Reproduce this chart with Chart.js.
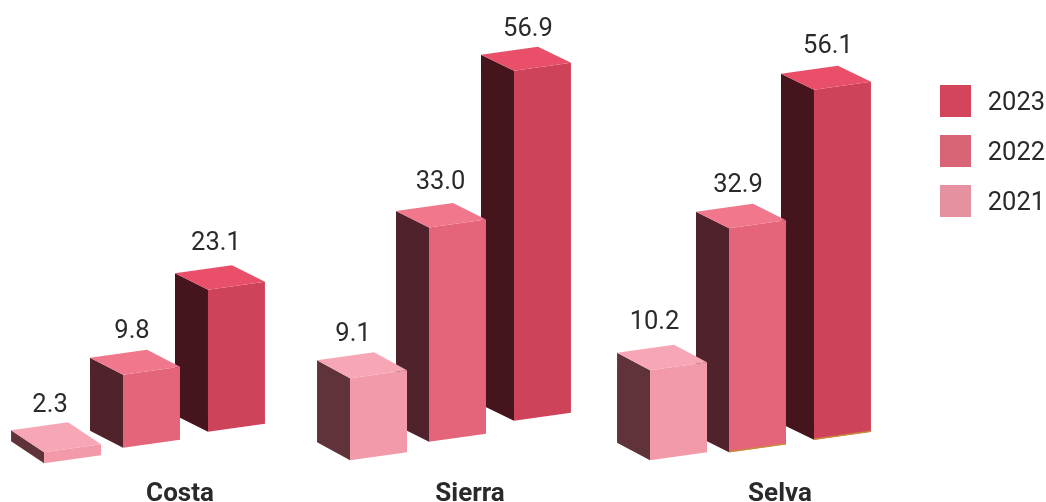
<!DOCTYPE html>
<html>
<head>
<meta charset="utf-8">
<style>html,body{margin:0;padding:0;background:#fff}canvas{display:block}</style>
<script src="https://cdn.jsdelivr.net/npm/chart.js@4/dist/chart.umd.min.js"></script>
</head>
<body>
<canvas id="c" width="1046" height="502"></canvas>
<script>
const categories = ['Costa', 'Sierra', 'Selva'];
const seriesNames = ['2021', '2022', '2023'];

// Printed value labels.
const printed2021 = [2.3, 9.1, 10.2];
const printed2022 = [9.8, 33.0, 32.9];
const printed2023 = [23.1, 56.9, 56.1];

// Bar heights as pictured: the reference's bars are not
// to scale with their printed labels, so both are recorded.
const height2021 = [1.8, 13.3, 14.6];
const height2022 = [11.9, 34.8, 36.4];
const height2023 = [23.1, 56.9, 56.9];

// How far each bar's foot sits above the floor in the 3D view.
const lift2021 = [1.1, 1.6, 1.6];
const lift2022 = [3.6, 4.6, 2.9];
const lift2023 = [6.2, 8.0, 4.9];

const printed = [printed2021, printed2022, printed2023];
const heights = [height2021, height2022, height2023];
const lifts = [lift2021, lift2022, lift2023];

// Layout and style, kept apart from the data.
const groupNudge = [-0.5, 2.5, -0.5];
const seriesNudge = [3, 0, 3];
const tickNudge = [28, 15, 22];
const labelShiftX = [[-22.5, -25.5, -24], [-19.5, -17, -19.5], [-20.5, -14.5, -14.5]];
const labelShiftY = [[-46.5, -43.5, -47.5], [-43.5, -44.5, -42.5], [-46.5, -41.5, -43.5]];
const depthX = 33, riseY = 8;
const depthYs = [[22, 18, 17.5], [17, 16.5, 16.5], [16.5, 16, 16]];
const frontColors = ['#f29aa9', '#e4647a', '#cf435a'];
const topColors = ['#f7a6b5', '#f0778c', '#e94f69'];
const sideColors = ['#5f3339', '#50222c', '#46141c'];
const legendColors = ['#e5919f', '#d96476', '#d2455b'];
const groundEdge = [false, false, true];
const textColor = '#2a2a2c';
const labelFont = '400 25.5px Roboto';
const swatchLeft = 940, swatchTop = 85, swatchW = 31, swatchH = 32, swatchStep = 50;

class NudgedCategory extends Chart.CategoryScale {
  static id = 'nudgedCategory';
  static defaults = Chart.CategoryScale.defaults;
  getPixelForTick(i) { return super.getPixelForTick(i) + tickNudge[i]; }
}
Chart.register(NudgedCategory);

function poly(ctx, pts, fill) {
  ctx.beginPath();
  pts.forEach((p, i) => i ? ctx.lineTo(p[0], p[1]) : ctx.moveTo(p[0], p[1]));
  ctx.closePath();
  ctx.fillStyle = fill;
  ctx.fill();
}

const box3d = {
  id: 'box3d',
  afterLayout(chart) {
    const l = chart.legend;
    l.left = 922; l.top = 70; l.right = 1046; l.bottom = 300;
  },
  afterDatasetsDraw(chart) {
    const ctx = chart.ctx;
    for (let c = 0; c < categories.length; c++) {
      for (let s = seriesNames.length - 1; s >= 0; s--) {
        const el = chart.getDatasetMeta(s).data[c];
        const w = el.width;
        const l = el.x - w / 2 + groupNudge[c] + seriesNudge[s];
        const r = l + w;
        const t = el.y, b = el.base;
        const depthY = depthYs[s][c];
        poly(ctx, [[l, t], [l - depthX, t - depthY], [l - depthX, b - depthY], [l, b]], sideColors[s]);
        poly(ctx, [[l, t], [r, t - riseY], [r, b - riseY], [l, b]], frontColors[s]);
        poly(ctx, [[l, t], [l - depthX, t - depthY], [l - depthX + w, t - depthY - riseY], [r, t - riseY]], topColors[s]);
        if (groundEdge[c] && s > 0) {
          ctx.beginPath();
          ctx.moveTo(l, b - 0.5);
          ctx.lineTo(r, b - riseY - 0.5);
          ctx.strokeStyle = '#c98a3e';
          ctx.lineWidth = 1.5;
          ctx.stroke();
        }
        ctx.font = labelFont;
        ctx.fillStyle = textColor;
        ctx.textAlign = 'center';
        ctx.textBaseline = 'middle';
        ctx.fillText(printed[s][c].toFixed(1), l + w / 2 + labelShiftX[s][c], t + labelShiftY[s][c]);
      }
    }
  },
  afterDraw(chart) {
    const ctx = chart.ctx;
    [...legendColors].reverse().forEach((col, i) => {
      ctx.fillStyle = col;
      ctx.fillRect(swatchLeft, swatchTop + i * swatchStep, swatchW, swatchH);
    });
  }
};

new Chart(document.getElementById('c'), {
  type: 'bar',
  data: {
    labels: categories,
    datasets: seriesNames.map((name, s) => ({
      label: name,
      data: heights[s].map((h, c) => [lifts[s][c], lifts[s][c] + h]),
      backgroundColor: 'rgba(0,0,0,0)',
      borderWidth: 0,
      categoryPercentage: 0.848,
      barPercentage: 0.695
    }))
  },
  options: {
    responsive: false,
    animation: false,
    devicePixelRatio: 1,
    layout: { padding: { left: 0.5, right: 136.5, top: 0, bottom: 0 } },
    scales: {
      x: {
        type: 'nudgedCategory',
        grid: { display: false },
        border: { display: false },
        ticks: {
          color: textColor,
          font: { family: 'Roboto', size: 26, weight: '700' },
          padding: 1,
          maxRotation: 0,
          autoSkip: false
        },
        afterFit(scale) { scale.height = 32; }
      },
      y: { display: false, min: 0, max: 76.4 }
    },
    plugins: {
      tooltip: { enabled: false },
      legend: {
        position: 'chartArea',
        align: 'start',
        reverse: true,
        labels: {
          boxWidth: 35,
          boxHeight: 32,
          padding: 18,
          color: textColor,
          font: { family: 'Roboto', size: 25.5, weight: '400' },
          generateLabels: () => seriesNames.map((name, s) => ({
            text: name,
            fillStyle: 'rgba(0,0,0,0)',
            strokeStyle: 'rgba(0,0,0,0)',
            lineWidth: 0,
            datasetIndex: s,
            fontColor: textColor
          }))
        }
      }
    }
  },
  plugins: [box3d]
});
</script>
</body>
</html>
